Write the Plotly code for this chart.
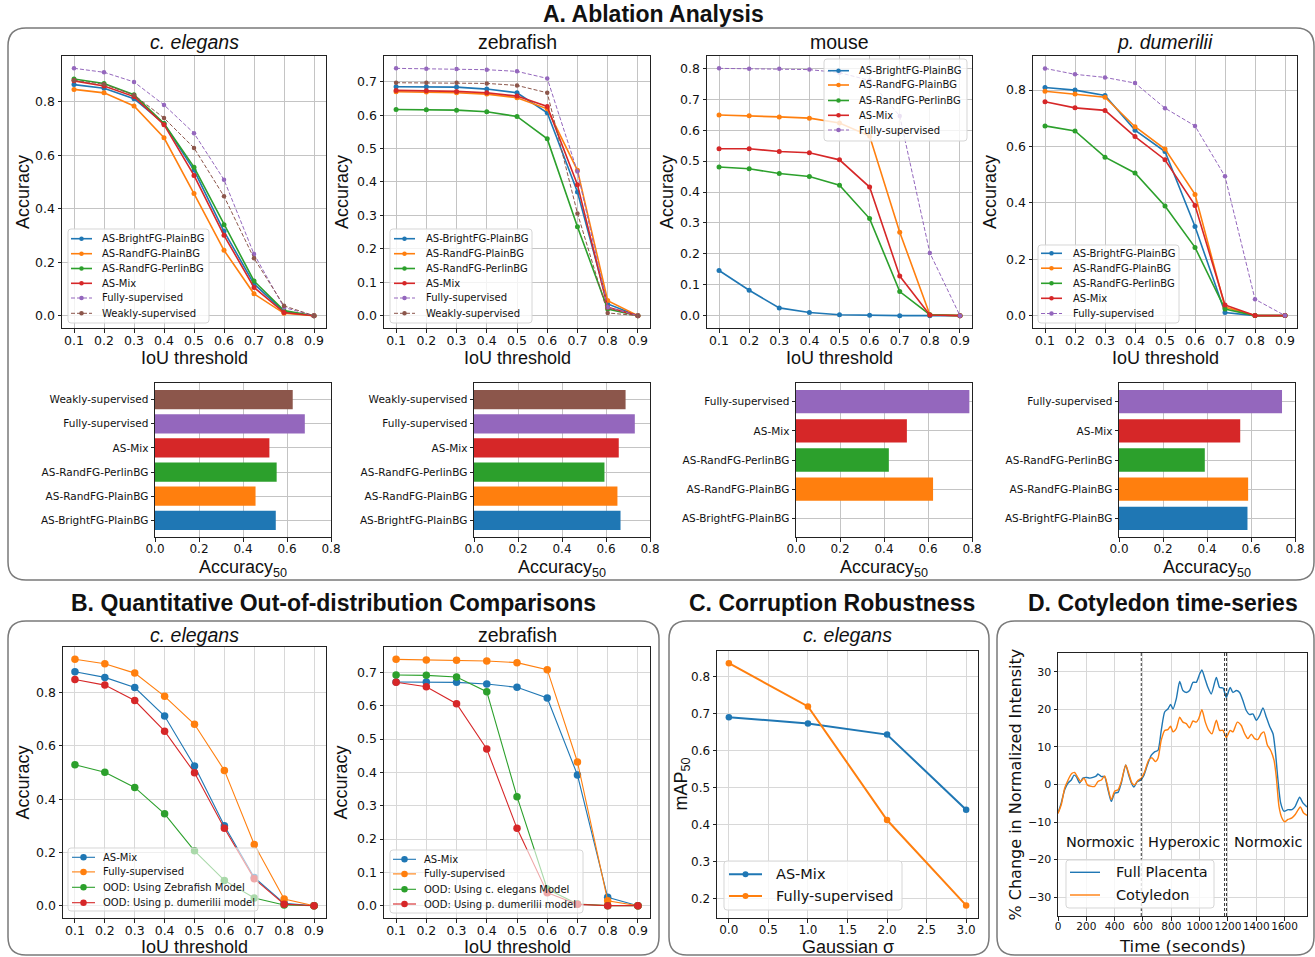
import plotly.graph_objects as go

W, H = 1315, 957

# ---------------- data ----------------
iou_thresholds = [0.1, 0.2, 0.3, 0.4, 0.5, 0.6, 0.7, 0.8, 0.9]
methods = ["AS-BrightFG-PlainBG", "AS-RandFG-PlainBG", "AS-RandFG-PerlinBG",
           "AS-Mix", "Fully-supervised", "Weakly-supervised"]
method_colors = ["#1f77b4", "#ff7f0e", "#2ca02c", "#d62728", "#9467bd", "#8c564b"]

# A. Ablation - c. elegans
ce_bright = [0.865, 0.851, 0.812, 0.719, 0.545, 0.316, 0.119, 0.015, 0.0]
ce_plain = [0.847, 0.834, 0.785, 0.666, 0.457, 0.245, 0.082, 0.009, 0.0]
ce_perlin = [0.886, 0.869, 0.827, 0.719, 0.556, 0.340, 0.130, 0.019, 0.0]
ce_mix = [0.879, 0.860, 0.820, 0.715, 0.525, 0.301, 0.106, 0.012, 0.0]
ce_fully = [0.926, 0.911, 0.875, 0.789, 0.683, 0.509, 0.231, 0.031, 0.0]
ce_weakly = [0.881, 0.866, 0.826, 0.740, 0.628, 0.447, 0.215, 0.037, 0.0]
# A. Ablation - zebrafish
zf_bright = [0.685, 0.685, 0.684, 0.678, 0.667, 0.607, 0.370, 0.035, 0.0]
zf_plain = [0.670, 0.669, 0.667, 0.663, 0.652, 0.619, 0.435, 0.045, 0.0]
zf_perlin = [0.617, 0.616, 0.615, 0.610, 0.596, 0.529, 0.266, 0.020, 0.0]
zf_mix = [0.674, 0.673, 0.671, 0.667, 0.657, 0.626, 0.392, 0.025, 0.0]
zf_fully = [0.740, 0.739, 0.738, 0.736, 0.731, 0.710, 0.431, 0.025, 0.0]
zf_weakly = [0.697, 0.697, 0.697, 0.695, 0.689, 0.667, 0.306, 0.008, 0.0]
# A. Ablation - mouse
mo_bright = [0.146, 0.082, 0.025, 0.010, 0.003, 0.001, 0.0, 0.0, 0.0]
mo_plain = [0.649, 0.647, 0.643, 0.639, 0.623, 0.581, 0.270, 0.003, 0.0]
mo_perlin = [0.481, 0.475, 0.460, 0.450, 0.422, 0.314, 0.078, 0.003, 0.0]
mo_mix = [0.540, 0.540, 0.531, 0.527, 0.504, 0.416, 0.128, 0.002, 0.0]
mo_fully = [0.800, 0.799, 0.799, 0.796, 0.786, 0.761, 0.646, 0.203, 0.0]
# A. Ablation - p. dumerilii
pd_bright = [0.809, 0.800, 0.781, 0.658, 0.582, 0.316, 0.011, 0.0, 0.0]
pd_plain = [0.796, 0.786, 0.775, 0.670, 0.591, 0.430, 0.030, 0.0, 0.0]
pd_perlin = [0.673, 0.655, 0.562, 0.506, 0.389, 0.242, 0.023, 0.0, 0.0]
pd_mix = [0.759, 0.737, 0.728, 0.635, 0.553, 0.391, 0.038, 0.0, 0.0]
pd_fully = [0.877, 0.856, 0.845, 0.825, 0.736, 0.673, 0.494, 0.058, 0.0]

# Accuracy50 bars (order = methods)
ce_acc50 = [0.549, 0.457, 0.553, 0.520, 0.681, 0.626]
zf_acc50 = [0.666, 0.652, 0.593, 0.658, 0.731, 0.689]
mo_acc50 = [0.0, 0.623, 0.422, 0.504, 0.788]
pd_acc50 = [0.584, 0.587, 0.390, 0.551, 0.741]

# B. Out-of-distribution
ood_colors = ["#1f77b4", "#ff7f0e", "#2ca02c", "#d62728"]
b_ce_labels = ["AS-Mix", "Fully-supervised", "OOD: Using Zebrafish Model", "OOD: Using p. dumerilii model"]
b_ce_mix = [0.878, 0.857, 0.819, 0.712, 0.524, 0.300, 0.106, 0.009, 0.0]
b_ce_fully = [0.925, 0.908, 0.873, 0.786, 0.681, 0.508, 0.230, 0.025, 0.0]
b_ce_ood_zf = [0.529, 0.501, 0.444, 0.345, 0.206, 0.095, 0.029, 0.003, 0.0]
b_ce_ood_pd = [0.849, 0.828, 0.770, 0.655, 0.499, 0.291, 0.101, 0.006, 0.0]
b_zf_labels = ["AS-Mix", "Fully-supervised", "OOD: Using c. elegans Model", "OOD: Using p. dumerilii model"]
b_zf_mix = [0.671, 0.671, 0.670, 0.665, 0.655, 0.623, 0.392, 0.025, 0.0]
b_zf_fully = [0.739, 0.737, 0.736, 0.734, 0.729, 0.708, 0.431, 0.015, 0.0]
b_zf_ood_ce = [0.692, 0.691, 0.686, 0.642, 0.327, 0.050, 0.005, 0.0, 0.0]
b_zf_ood_pd = [0.670, 0.657, 0.606, 0.470, 0.232, 0.039, 0.004, 0.0, 0.0]

# C. Corruption robustness
gauss_sigma = [0.0, 1.0, 2.0, 3.0]
c_mix = [0.690, 0.673, 0.643, 0.440]
c_fully = [0.836, 0.719, 0.412, 0.181]

# D. Cotyledon time-series
d_time_full = [0, 23, 47, 71, 94, 113, 129, 153, 176, 200, 224, 247, 271, 282, 306, 329,
               353, 376, 400, 424, 447, 478, 499, 518, 536, 560, 584, 607, 631, 659, 682,
               706, 729, 753, 776, 795, 812, 835, 859, 882, 906, 929, 953, 976, 1000, 1016,
               1035, 1059, 1082, 1118, 1141, 1165, 1188, 1216, 1235, 1259, 1282, 1306, 1329,
               1353, 1376, 1400, 1424, 1447, 1471, 1494, 1518, 1534, 1553, 1572, 1595, 1624,
               1652, 1675, 1706, 1729, 1758]
d_full = [-7.6, -4.9, -1.4, 0.4, 1.2, 2.5, 2.1, 0.4, 1.7, 1.9, 1.7, 1.9, 2.3, 2.8, 2.1, 2.1,
          -1.4, -4.5, -2.3, -2.1, 0.4, 5.2, 2.5, 0.4, -0.7, 0.8, 1.2, 2.5, 5.2, 7.8, 8.7,
          9.1, 14.4, 19.3, 20.1, 21.3, 20.1, 22.8, 27.4, 25.0, 24.5, 25.0, 27.2, 27.2, 29.4, 30.5,
          28.5, 25.8, 24.1, 28.5, 25.8, 25.7, 23.2, 25.8, 24.5, 25.0, 24.5, 22.3, 19.7,
          18.6, 18.8, 17.1, 18.4, 20.4, 17.9, 15.5, 13.5, 9.1, 1.2, -4.9, -7.1, -6.7,
          -6.7, -5.8, -3.4, -4.9, -6.0]
d_time_cot = [0, 23, 47, 71, 94, 118, 136, 160, 184, 207, 235, 259, 282, 306, 329, 348,
              376, 400, 424, 447, 478, 499, 522, 541, 565, 588, 612, 640, 664, 687, 706,
              729, 753, 776, 795, 812, 835, 859, 882, 906, 929, 953, 976, 993, 1016, 1040,
              1064, 1087, 1118, 1141, 1165, 1188, 1216, 1235, 1266, 1294, 1318, 1341, 1365,
              1388, 1412, 1435, 1454, 1478, 1501, 1525, 1541, 1560, 1581, 1600, 1624, 1652,
              1675, 1711, 1734, 1758]
d_cot = [-7.7, -5.4, -1.0, 1.2, 2.8, 3.2, 2.1, 0.8, 1.7, -0.1, -0.5, -0.5, 0.8, 1.2, 2.3, -0.1,
         -4.0, -1.8, -1.4, 0.8, 5.2, 3.0, 0.4, -0.1, 1.1, 1.7, 3.4, 6.5, 7.1, 6.1, 7.0,
         11.8, 14.4, 14.6, 15.5, 14.0, 14.9, 17.9, 16.6, 16.2, 15.1, 16.9, 16.6, 17.5, 19.9, 16.6,
         14.4, 13.5, 17.1, 14.4, 14.4, 12.5, 14.4, 14.0, 16.6, 15.7, 13.5, 12.2, 13.4,
         12.2, 12.0, 13.5, 14.0, 10.5, 9.1, 6.5, 2.1, -5.8, -8.9, -9.9, -9.3, -8.9,
         -8.0, -6.0, -7.6, -8.2]
d_phase_bounds = [588, 1176, 1190]
d_phase_labels = ["Normoxic", "Hyperoxic", "Normoxic"]
d_phase_label_x = [301, 890, 1485]
d_phase_label_y = -15.4

# ---------------- helpers ----------------
LABEL_FONT = "Liberation Sans, Arial, sans-serif"
TICK_FONT = "DejaVu Sans, sans-serif"

fig = go.Figure()
layout = {}
shapes = []
annots = []


def X(v):
    return v / W


def Y(v):
    return 1 - v / H


def rrect_path(x0, y0, x1, y1, r):
    f = lambda a: f"{X(a):.6f}"
    g = lambda a: f"{Y(a):.6f}"
    return (f"M {f(x0 + r)},{g(y0)} L {f(x1 - r)},{g(y0)} Q {f(x1)},{g(y0)} {f(x1)},{g(y0 + r)} "
            f"L {f(x1)},{g(y1 - r)} Q {f(x1)},{g(y1)} {f(x1 - r)},{g(y1)} L {f(x0 + r)},{g(y1)} "
            f"Q {f(x0)},{g(y1)} {f(x0)},{g(y1 - r)} L {f(x0)},{g(y0 + r)} Q {f(x0)},{g(y0)} {f(x0 + r)},{g(y0)} Z")


def text(x, y, s, size, family=LABEL_FONT, angle=0, xanchor="center", color="#111"):
    annots.append(dict(x=X(x), y=Y(y), xref="paper", yref="paper", text=s, showarrow=False,
                       textangle=angle, xanchor=xanchor, yanchor="middle",
                       font=dict(family=family, size=size, color=color)))


def add_axes(i, box, xa, ya, grid="#c4c4c4", tsize=12.5):
    x0, y0, x1, y1 = box
    common = dict(showline=True, mirror=True, linecolor="#222", linewidth=1, ticks="outside",
                  ticklen=3.5, tickwidth=1, tickcolor="#222", showgrid=True, gridcolor=grid,
                  gridwidth=0.8, zeroline=False, tickangle=0, automargin=False,
                  tickfont=dict(family=TICK_FONT, size=tsize, color="#111"))
    sfx = "" if i == 1 else str(i)
    xd = dict(common, domain=[X(x0), X(x1)], anchor=f"y{sfx}", ticklabelstandoff=-3)
    xd.update(xa)
    yd = dict(common, domain=[Y(y1), Y(y0)], anchor=f"x{sfx}")
    yd.update(ya)
    layout[f"xaxis{sfx}"] = xd
    layout[f"yaxis{sfx}"] = yd
    return f"x{sfx}", f"y{sfx}"


def legend(box, rows_y, sx0, sx1, tx, items, fsize, msize=0, alpha=0.8):
    x0, y0, x1, y1 = box
    shapes.append(dict(type="path", xref="paper", yref="paper", path=rrect_path(x0, y0, x1, y1, 3),
                       fillcolor=f"rgba(255,255,255,{alpha})", line=dict(color="#d6d6d6", width=1),
                       layer="above"))
    for (label, color, dash, lw), ry in zip(items, rows_y):
        shapes.append(dict(type="line", xref="paper", yref="paper", x0=X(sx0), x1=X(sx1),
                           y0=Y(ry), y1=Y(ry), line=dict(color=color, width=lw, dash=dash),
                           layer="above"))
        if msize:
            cx = (sx0 + sx1) / 2
            r = msize / 2
            shapes.append(dict(type="circle", xref="paper", yref="paper", x0=X(cx - r), x1=X(cx + r),
                               y0=Y(ry + r), y1=Y(ry - r), fillcolor=color,
                               line=dict(color=color, width=0), layer="above"))
        text(tx, ry, label, fsize, family=TICK_FONT, xanchor="left")


# ---------------- outer rounded panels ----------------
for bx in [(8, 28, 1314, 580), (8, 621, 659, 955), (669, 621, 989, 955), (997, 621, 1314, 955)]:
    shapes.append(dict(type="path", xref="paper", yref="paper", path=rrect_path(*bx, 18),
                       line=dict(color="#7a7a7a", width=1.5), fillcolor="rgba(0,0,0,0)", layer="below"))

text(653, 14, "<b>A. Ablation Analysis</b>", 23)
text(333, 603, "<b>B. Quantitative Out-of-distribution Comparisons</b>", 23)
text(832, 603, "<b>C. Corruption Robustness</b>", 23)
text(1163, 603, "<b>D. Cotyledon time-series</b>", 23)

# ---------------- Row A line plots ----------------
panelsA = [
    ("<i>c. elegans</i>", (62, 56, 326, 328), [-0.046, 0.972], 0.2, 23,
     [ce_bright, ce_plain, ce_perlin, ce_mix, ce_fully, ce_weakly]),
    ("zebrafish", (384, 56, 650, 328), [-0.037, 0.777], 0.1, 342,
     [zf_bright, zf_plain, zf_perlin, zf_mix, zf_fully, zf_weakly]),
    ("mouse", (707, 56, 972, 328), [-0.040, 0.840], 0.1, 667,
     [mo_bright, mo_plain, mo_perlin, mo_mix, mo_fully]),
    ("<i>p. dumerilii</i>", (1033, 56, 1297, 328), [-0.044, 0.921], 0.2, 990,
     [pd_bright, pd_plain, pd_perlin, pd_mix, pd_fully]),
]
legA_boxes = [
    ((68, 229, 209, 323), [238.7, 253.7, 268.5, 283.3, 298.0, 313.3], 71, 92, 100),
    ((390, 229, 532, 323), [238.7, 253.7, 268.5, 283.3, 298.0, 313.3], 394, 415, 424),
    ((824, 59, 967, 141), [70.7, 85.0, 100.5, 115.3, 130.0], 828, 849, 857),
    ((1038, 245, 1179, 323), [253.3, 268.2, 283.3, 298.3, 313.5], 1041, 1062, 1071),
]
ax_i = 1
for (title, bx, yr, dt, lx, series), (lbox, lrows, lsx0, lsx1, ltx) in zip(panelsA, legA_boxes):
    xa, ya = add_axes(ax_i, bx, dict(range=[0.06, 0.94], tickvals=iou_thresholds, tickformat=".1f"),
                      dict(range=yr, dtick=dt, tick0=0, tickformat=".1f"))
    items = []
    for k, vals in enumerate(series):
        dashed = k >= 4
        fig.add_trace(go.Scatter(x=iou_thresholds, y=vals, xaxis=xa, yaxis=ya, mode="lines+markers",
                                 line=dict(color=method_colors[k], width=1.0 if dashed else 1.6,
                                           dash="4px,2px" if dashed else "solid"),
                                 marker=dict(size=5 if not dashed else 4.5, color=method_colors[k]),
                                 showlegend=False, name=methods[k]))
        items.append((methods[k], method_colors[k], "4px,2px" if dashed else "solid", 1.0 if dashed else 1.6))
    cx = (bx[0] + bx[2]) / 2
    text(cx, 42, title, 19.5)
    text(cx, 358, "IoU threshold", 18)
    text(lx, (bx[1] + bx[3]) / 2, "Accuracy", 18, angle=-90)
    legend(lbox, lrows, lsx0, lsx1, ltx, items, 10, msize=4.5)
    ax_i += 1

# ---------------- Row A bar charts ----------------
panelsBar = [
    ((155, 383, 331, 537), ce_acc50),
    ((474, 383, 650, 537), zf_acc50),
    ((796, 383, 972, 537), mo_acc50),
    ((1119, 383, 1295, 537), pd_acc50),
]
for bx, vals in panelsBar:
    n = len(vals)
    cats = methods[:n]
    xa, ya = add_axes(ax_i, bx, dict(range=[0, 0.8], dtick=0.2, tick0=0, tickformat=".1f"),
                      dict(range=[-0.4 - 0.05 * (n - 0.2), n - 0.6 + 0.05 * (n - 0.2)],
                           type="category", categoryorder="array", categoryarray=cats,
                           tickfont=dict(family=TICK_FONT, size=10.5, color="#111")), tsize=12)
    fig.add_trace(go.Bar(x=vals, y=cats, orientation="h", xaxis=xa, yaxis=ya, width=0.8,
                         marker=dict(color=method_colors[:n], line=dict(width=0)), showlegend=False))
    text((bx[0] + bx[2]) / 2, 568, "Accuracy<sub>50</sub>", 18)
    ax_i += 1

# ---------------- B. OOD ----------------
panelsB = [
    ("<i>c. elegans</i>", (63, 647, 326, 918), [-0.046, 0.971], 0.2, 22,
     [b_ce_mix, b_ce_fully, b_ce_ood_zf, b_ce_ood_pd], b_ce_labels,
     ((68, 848, 258, 911), [857.3, 871.9, 887.3, 902.7], 72, 95, 101)),
    ("zebrafish", (384, 647, 650, 918), [-0.037, 0.776], 0.1, 340,
     [b_zf_mix, b_zf_fully, b_zf_ood_ce, b_zf_ood_pd], b_zf_labels,
     ((390, 850, 583, 913), [859.3, 873.9, 889.3, 904.0], 393, 416, 422)),
]
for title, bx, yr, dt, lx, series, labels, (lbox, lrows, lsx0, lsx1, ltx) in panelsB:
    xa, ya = add_axes(ax_i, bx, dict(range=[0.06, 0.94], tickvals=iou_thresholds, tickformat=".1f"),
                      dict(range=yr, dtick=dt, tick0=0, tickformat=".1f"), grid="#d8d8d8")
    items = []
    for k, vals in enumerate(series):
        fig.add_trace(go.Scatter(x=iou_thresholds, y=vals, xaxis=xa, yaxis=ya, mode="lines+markers",
                                 line=dict(color=ood_colors[k], width=1.1),
                                 marker=dict(size=7.5, color=ood_colors[k]),
                                 showlegend=False, name=labels[k]))
        items.append((labels[k], ood_colors[k], "solid", 1.1))
    cx = (bx[0] + bx[2]) / 2
    text(cx, 635, title, 19.5)
    text(cx, 947, "IoU threshold", 18)
    text(lx, (bx[1] + bx[3]) / 2, "Accuracy", 18, angle=-90)
    legend(lbox, lrows, lsx0, lsx1, ltx, items, 10, msize=6.5, alpha=0.6)
    ax_i += 1

# ---------------- C. Corruption ----------------
bxC = (717, 651, 978, 918)
xa, ya = add_axes(ax_i, bxC, dict(range=[-0.15, 3.15], dtick=0.5, tick0=0, tickformat=".1f"),
                  dict(range=[0.147, 0.869], dtick=0.1, tick0=0, tickformat=".1f"),
                  grid="#d8d8d8", tsize=12)
c_labels = ["AS-Mix", "Fully-supervised"]
c_colors = ["#1f77b4", "#ff7f0e"]
for k, vals in enumerate([c_mix, c_fully]):
    fig.add_trace(go.Scatter(x=gauss_sigma, y=vals, xaxis=xa, yaxis=ya, mode="lines+markers",
                             line=dict(color=c_colors[k], width=2), marker=dict(size=6.5, color=c_colors[k]),
                             showlegend=False, name=c_labels[k]))
text((bxC[0] + bxC[2]) / 2, 635, "<i>c. elegans</i>", 19.5)
text((bxC[0] + bxC[2]) / 2, 947, "Gaussian σ", 18)
text(682, (bxC[1] + bxC[3]) / 2, "mAP<sub>50</sub>", 18, angle=-90)
legend((724, 861, 902, 910), [874.3, 896.0], 729, 762, 774,
       [(c_labels[0], c_colors[0], "solid", 2), (c_labels[1], c_colors[1], "solid", 2)], 14.5, msize=6)
ax_i += 1

# ---------------- D. Time series ----------------
bxD = (1058, 653, 1307, 916)
xa, ya = add_axes(ax_i, bxD, dict(range=[0, 1758], dtick=200, tick0=0),
                  dict(range=[-35, 35], dtick=10, tick0=0), grid="#d8d8d8", tsize=11)
layout[f"xaxis{ax_i}"]["tickfont"] = dict(family=TICK_FONT, size=10.5, color="#111")
d_labels = ["Full Placenta", "Cotyledon"]
d_colors = ["#1f77b4", "#ff7f0e"]
for k, (tt, vals) in enumerate([(d_time_full, d_full), (d_time_cot, d_cot)]):
    fig.add_trace(go.Scatter(x=tt, y=vals, xaxis=xa, yaxis=ya, mode="lines",
                             line=dict(color=d_colors[k], width=1.4, shape="spline", smoothing=0.6),
                             showlegend=False, name=d_labels[k]))
for tb in d_phase_bounds:
    shapes.append(dict(type="line", xref=xa, yref=f"{ya} domain", x0=tb, x1=tb, y0=0, y1=1,
                       line=dict(color="#333", width=1, dash="3px,2px"), layer="above"))
for lbl, lxv in zip(d_phase_labels, d_phase_label_x):
    annots.append(dict(x=lxv, y=d_phase_label_y, xref=xa, yref=ya, text=lbl, showarrow=False,
                       font=dict(family=TICK_FONT, size=14.5, color="#111")))
text((bxD[0] + bxD[2]) / 2, 946, "Time (seconds)", 16.5, family=TICK_FONT)
text(1015, (bxD[1] + bxD[3]) / 2, "% Change in Normalized Intensity", 16, family=TICK_FONT, angle=-90)
legend((1066, 860, 1214, 908), [872.3, 895.0], 1070, 1100, 1114,
       [(d_labels[0], d_colors[0], "solid", 1.4), (d_labels[1], d_colors[1], "solid", 1.4)], 14.5)

layout.update(dict(width=W, height=H, autosize=False, margin=dict(l=0, r=0, t=0, b=0, pad=0),
                   paper_bgcolor="white", plot_bgcolor="white", showlegend=False,
                   font=dict(family=TICK_FONT, color="#111"), shapes=shapes, annotations=annots,
                   bargap=0.2))
fig.update_layout(**layout)

reset_page_css = ("document.documentElement.style.margin='0';document.documentElement.style.padding='0';"
                  "document.documentElement.style.overflow='hidden';"
                  "document.body.style.margin='0';document.body.style.padding='0';"
                  "document.body.style.overflow='hidden';")
fig.write_html("out.html", config={"responsive": False, "displayModeBar": False},
               post_script=reset_page_css)
